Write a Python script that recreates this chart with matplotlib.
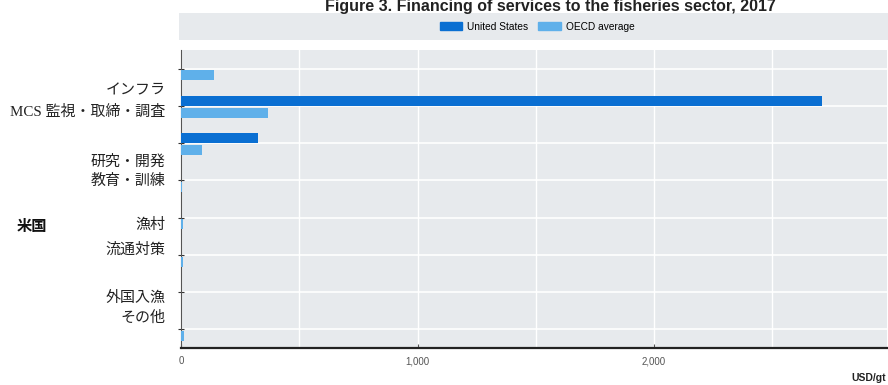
import matplotlib
matplotlib.use("Agg")
import matplotlib.pyplot as plt
import numpy as np
from matplotlib.patches import Patch
from matplotlib.ticker import MultipleLocator, FuncFormatter

# ---- data ----
categories = ["インフラ", "MCS 監視・取締・調査", "研究・開発", "教育・訓練",
              "漁村", "流通対策", "外国入漁", "その他"]
us_values = [0, 2710, 325, 0, 0, 0, 0, 0]
oecd_values = [140, 367, 89, 5, 10, 8, 0, 12]
series_names = ["United States", "OECD average"]
country_label = "米国"
unit_label = "USD/gt"
title_text = "Figure 3. Financing of services to the fisheries sector, 2017"
x_ticks = [0, 1000, 2000]

# label positions (in category units, overlaid labels offset from bar groups)
label_pos = [0.55, 1.12, 2.45, 2.98, 4.15, 4.81, 6.12, 6.65]

US_COLOR = "#0a6fd2"
OECD_COLOR = "#5fb0ea"
BG = "#e7eaed"

fig = plt.figure(figsize=(8.88, 3.85), dpi=100)
fig.patch.set_facecolor("white")

W, H = 888, 385
ax = fig.add_axes([181 / W, 1 - 348 / H, (887 - 181) / W, (348 - 50) / H])
ax.set_facecolor(BG)

y = np.arange(len(categories))
bh = 0.27
ax.barh(y - 0.13, us_values, height=bh, color=US_COLOR, zorder=3)
ax.barh(y + 0.18, oecd_values, height=bh, color=OECD_COLOR, zorder=3)

ax.set_ylim(len(categories) - 0.5, -0.5)
ax.set_xlim(0, 2985)

# grid
ax.set_yticks(y, minor=True)
ax.set_yticks(label_pos)
ax.set_yticklabels(categories, family=["Liberation Serif", "Noto Sans CJK JP"],
                   fontsize=10.8, color="#222222")
ax.tick_params(axis="y", which="major", length=0, pad=11)
ax.tick_params(axis="y", which="minor", length=4, direction="inout", color="#333333", width=0.8)
ax.grid(True, axis="y", which="minor", color="white", lw=1.2, zorder=1)

ax.set_xticks(x_ticks)
ax.xaxis.set_minor_locator(MultipleLocator(500))
ax.xaxis.set_major_formatter(FuncFormatter(lambda v, p: f"{int(v):,}"))
ax.tick_params(axis="x", which="major", length=3, direction="in", labelsize=7,
               labelcolor="#555555", color="#555555", pad=6)
ax.tick_params(axis="x", which="minor", length=0)
ax.grid(True, axis="x", which="both", color="white", lw=1.0, zorder=1)
for lbl in ax.get_xticklabels():
    lbl.set_family("Liberation Sans")

for s in ["top", "right"]:
    ax.spines[s].set_visible(False)
ax.spines["left"].set_color("#555555")
ax.spines["left"].set_linewidth(0.8)
ax.spines["bottom"].set_color("#222222")
ax.spines["bottom"].set_linewidth(1.6)

# legend band
lax = fig.add_axes([179 / W, 1 - 40 / H, (888 - 179) / W, 27 / H])
lax.set_facecolor(BG)
lax.set_xticks([])
lax.set_yticks([])
for s in lax.spines.values():
    s.set_visible(False)
handles = [Patch(color=US_COLOR), Patch(color=OECD_COLOR)]
leg = lax.legend(handles, series_names, loc="center", ncol=2, frameon=False,
                 prop={"family": "Liberation Sans", "size": 7.3},
                 handlelength=2.2, handleheight=0.9, columnspacing=1.0,
                 handletextpad=0.5, bbox_to_anchor=(0.505, 0.5))

# texts
fig.text(17 / W, 1 - 226 / H, country_label, family=["Noto Sans CJK JP"],
         fontweight="bold", fontsize=11, color="#111111", va="center", ha="left")
fig.text(886 / W, 1 - 378 / H, unit_label, family="Liberation Sans",
         fontweight="bold", fontsize=7.5, color="#222222", va="center", ha="right")
fig.text(550 / W, 1 - 11 / H, title_text, family="Liberation Sans",
         fontweight="bold", fontsize=11.5, color="#222222", va="baseline", ha="center")

fig.savefig("out.png", dpi=100)
